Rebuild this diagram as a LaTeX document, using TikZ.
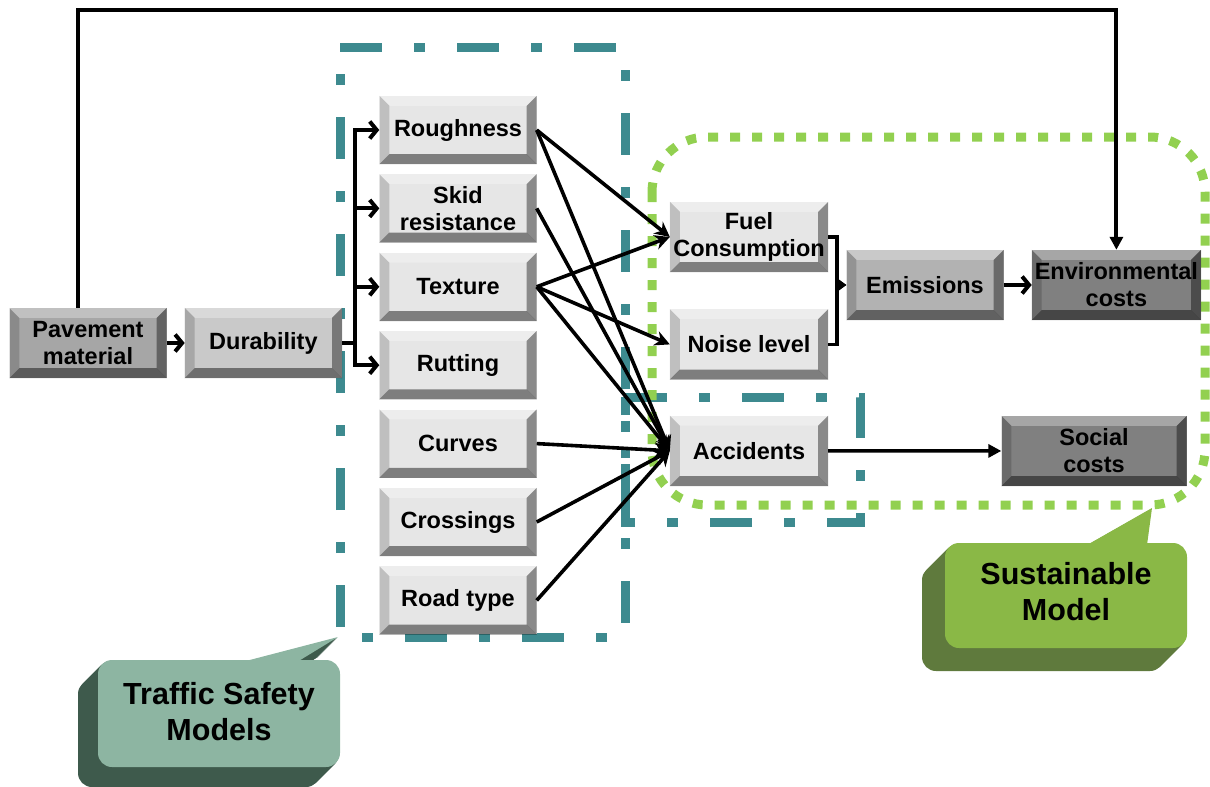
\documentclass[tikz,border=0pt]{standalone}
\usepackage{fontspec}
\setmainfont{Liberation Sans}
\usepackage{xcolor}
\definecolor{tealLine}{HTML}{3D8A8F}
\definecolor{greenDot}{HTML}{92D050}
\definecolor{lightFace}{HTML}{E6E6E6}
\definecolor{midFace}{HTML}{C9C9C9}
\definecolor{darkFace}{HTML}{A6A6A6}
\definecolor{emisFace}{HTML}{B2B2B2}
\definecolor{costFace}{HTML}{808080}
\definecolor{safetyFace}{HTML}{8DB5A2}
\definecolor{safetySide}{HTML}{3E5A4C}
\definecolor{sustainFace}{HTML}{8AB846}
\definecolor{sustainSide}{HTML}{5F7A3D}
\usetikzlibrary{positioning,calc,arrows.meta}

\newcommand{\boxfont}{\bfseries\fontsize{23.5}{27}\selectfont}
\newcommand{\calloutfont}{\bfseries\fontsize{30.5}{36}\selectfont}
\newcommand{\bevelsize}{10pt}
% bevelled edges on top of a box node
\newcommand{\bevel}[1]{%
  \fill[white,opacity=.3] (#1.north west) -- (#1.north east)
    -- ([xshift=-\bevelsize,yshift=-\bevelsize]#1.north east)
    -- ([xshift=\bevelsize,yshift=-\bevelsize]#1.north west) -- cycle;
  \fill[black,opacity=.17] (#1.north west)
    -- ([xshift=\bevelsize,yshift=-\bevelsize]#1.north west)
    -- ([xshift=\bevelsize,yshift=\bevelsize]#1.south west)
    -- (#1.south west) -- cycle;
  \fill[black,opacity=.4] (#1.north east) -- (#1.south east)
    -- ([xshift=-\bevelsize,yshift=\bevelsize]#1.south east)
    -- ([xshift=-\bevelsize,yshift=-\bevelsize]#1.north east) -- cycle;
  \fill[black,opacity=.45] (#1.south west)
    -- ([xshift=\bevelsize,yshift=\bevelsize]#1.south west)
    -- ([xshift=-\bevelsize,yshift=\bevelsize]#1.south east)
    -- (#1.south east) -- cycle;
}

\tikzset{%
  bevelBox/.style={%
    rectangle,
    fill=#1,
    minimum width=157pt,
    minimum height=68pt,
    inner sep=0pt,
    align=center,
    font=\boxfont
  },
  calloutText/.style={%
    align=center,
    font=\calloutfont
  },
  tealDash/.style={%
    draw=tealLine,
    line width=9pt,
    dash pattern=on 42pt off 32pt on 11pt off 32pt
  },
  greenDots/.style={%
    draw=greenDot,
    line width=9pt,
    dash pattern=on 10pt off 12pt,
    rounded corners=55pt
  },
  barbArrow/.style={%
    -{Straight Barb[length=7pt,width=17pt]},
    line width=4pt
  },
  fanArrow/.style={%
    -{Stealth[length=15pt,width=15pt]},
    line width=3.6pt
  },
  joinArrow/.style={%
    -{Stealth[length=9pt,width=13pt]},
    line width=3.6pt
  },
  triArrow/.style={%
    -{Triangle[length=13pt,width=13pt]},
    line width=3.5pt
  }
}

\begin{document}
\begin{tikzpicture}[x=1pt,y=-1pt]
  \useasboundingbox (0,0) rectangle (1210,787);

  % Traffic safety region
  \draw[tealDash] (340,47) -- (625,47) -- (625,637) -- (340,637) -- cycle;
  \draw[tealDash] (625,397) -- (860,397) -- (860,522) -- (625,522) -- cycle;

  % Sustainable region
  \draw[greenDots] (652,137) rectangle (1205,505);

  % Callout: traffic safety
  \foreach \k in {1,...,20} {
    \fill[safetySide,shift={(-\k,\k)},rounded corners=14pt] (98,660) rectangle (340,767);
    \fill[safetySide,shift={(-\k,\k)}] (242,662) -- (338,637) -- (297,662) -- cycle;
  }
  \fill[safetyFace,rounded corners=14pt] (98,660) rectangle (340,767);
  \fill[safetyFace] (242,662) -- (338,637) -- (297,662) -- cycle;
  \node[calloutText] (safetyLabel) at (219,712) {Traffic Safety\\Models};

  % Callout: sustainable model
  \foreach \k in {1,...,23} {
    \fill[sustainSide,shift={(-\k,\k)},rounded corners=14pt] (945,543) rectangle (1187,648);
    \fill[sustainSide,shift={(-\k,\k)}] (1087,545) -- (1152,508) -- (1147,545) -- cycle;
  }
  \fill[sustainFace,rounded corners=14pt] (945,543) rectangle (1187,648);
  \fill[sustainFace] (1087,545) -- (1152,508) -- (1147,545) -- cycle;
  \node[calloutText] (sustainLabel) at (1066,592) {Sustainable\\Model};

  % Left chain
  \node[bevelBox=darkFace, minimum height=70pt] (pavement) at (88,343) {Pavement\\material};
  \node[bevelBox=midFace, minimum height=70pt, right=18pt of pavement] (durability) {Durability};

  % Pavement indicators
  \node[bevelBox=lightFace] (roughness) at (458,130) {Roughness};
  \node[bevelBox=lightFace, below=10pt of roughness] (skid) {Skid\\resistance};
  \node[bevelBox=lightFace, below=10pt of skid] (texture) {Texture};
  \node[bevelBox=lightFace, below=10pt of texture] (rutting) {Rutting};
  \node[bevelBox=lightFace, below=10pt of rutting] (curves) {Curves};
  \node[bevelBox=lightFace, below=10pt of curves] (crossings) {Crossings};
  \node[bevelBox=lightFace, below=10pt of crossings] (roadtype) {Road type};

  % Impacts
  \node[bevelBox=lightFace, minimum width=158pt, minimum height=70pt] (fuel) at (749,237) {Fuel\\Consumption};
  \node[bevelBox=lightFace, minimum width=158pt, minimum height=70pt, below=37pt of fuel] (noise) {Noise level};
  \node[bevelBox=lightFace, minimum width=158pt, minimum height=70pt, below=36pt of noise] (accidents) {Accidents};
  \node[bevelBox=emisFace, minimum height=70pt] (emissions) at (925,285) {Emissions};
  \node[bevelBox=costFace, minimum width=169pt, minimum height=70pt, right=28pt of emissions] (envcosts) {Environmental\\costs};
  \node[bevelBox=costFace, minimum width=185pt, minimum height=70pt] (social) at (1094,451) {Social\\costs};

  \foreach \n in {pavement,durability,roughness,skid,texture,rutting,curves,crossings,roadtype,fuel,noise,accidents,emissions,envcosts,social}
    \bevel{\n};

  % Connectors
  \coordinate (topright) at (envcosts.north |- 0,10);
  \draw[triArrow, line width=4pt] ([xshift=-10pt]pavement.north) |- (topright) -- (envcosts.north);
  \draw[barbArrow] (pavement) -- (durability);
  \foreach \t in {roughness,skid,texture,rutting}
    \draw[barbArrow] (durability.east) -- ++(13pt,0) |- (\t.west);

  \foreach \s in {roughness,texture}
    \draw[fanArrow] (\s.east) -- (fuel.west);
  \draw[fanArrow] (texture.east) -- (noise.west);
  \foreach \s in {roughness,skid,texture,curves,crossings,roadtype}
    \draw[fanArrow] (\s.east) -- (accidents.west);

  \draw[joinArrow] (fuel.east) -- ++(9pt,0) |- (emissions.west);
  \draw[joinArrow] (noise.east) -- ++(9pt,0) |- (emissions.west);
  \draw[barbArrow] (emissions) -- (envcosts);
  \draw[triArrow] (accidents) -- (social);
\end{tikzpicture}
\end{document}
